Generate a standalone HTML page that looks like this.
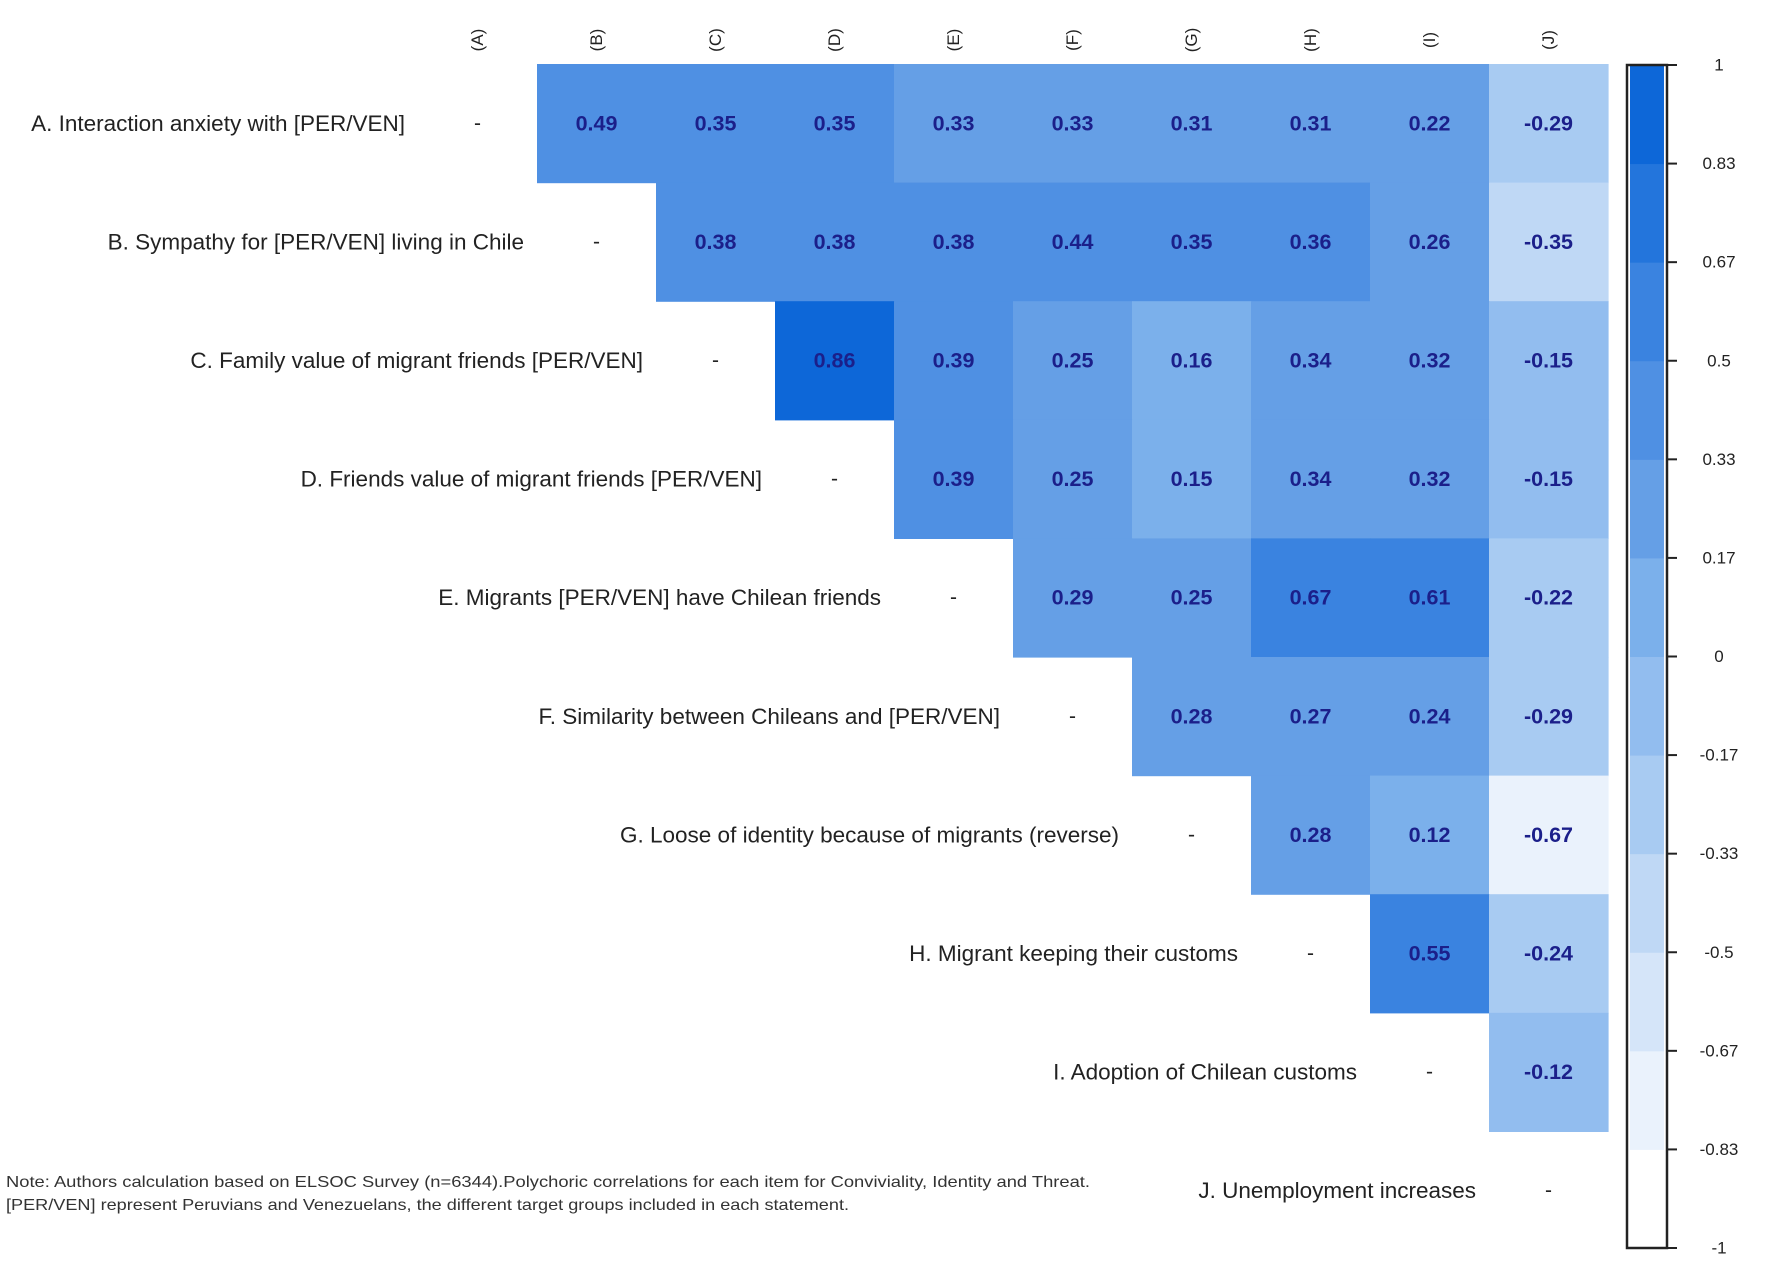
<!DOCTYPE html>
<html><head><meta charset="utf-8"><style>
html,body{margin:0;padding:0;background:#fff;}
svg{display:block;font-family:"Liberation Sans",Arial,sans-serif;}
</style></head><body>
<svg id="chart" width="1772" height="1284" viewBox="0 0 1772 1284"></svg>
<script>
const rowLabels = ["A. Interaction anxiety with [PER/VEN]","B. Sympathy for [PER/VEN] living in Chile","C. Family value of migrant friends [PER/VEN]","D. Friends value of migrant friends [PER/VEN]","E. Migrants [PER/VEN] have Chilean friends","F. Similarity between Chileans and [PER/VEN]","G. Loose of identity because of migrants (reverse)","H. Migrant keeping their customs","I. Adoption of Chilean customs","J. Unemployment increases"];
const colLabels = ["(A)","(B)","(C)","(D)","(E)","(F)","(G)","(H)","(I)","(J)"];
const rowA = [0.49,0.35,0.35,0.33,0.33,0.31,0.31,0.22,-0.29];
const rowB = [0.38,0.38,0.38,0.44,0.35,0.36,0.26,-0.35];
const rowC = [0.86,0.39,0.25,0.16,0.34,0.32,-0.15];
const rowD = [0.39,0.25,0.15,0.34,0.32,-0.15];
const rowE = [0.29,0.25,0.67,0.61,-0.22];
const rowF = [0.28,0.27,0.24,-0.29];
const rowG = [0.28,0.12,-0.67];
const rowH = [0.55,-0.24];
const rowI = [-0.12];
const legendTicks = ["1","0.83","0.67","0.5","0.33","0.17","0","-0.17","-0.33","-0.5","-0.67","-0.83","-1"];

const rows=[rowA,rowB,rowC,rowD,rowE,rowF,rowG,rowH,rowI,[]];
const palette=["#FFFFFF","#EAF2FC","#D5E5F9","#BFD8F5","#A8CBF2","#92BDEF","#7BB0EB","#659FE6","#4F90E3","#3A83E0","#2375DC","#0D67D8"];
const X0=418, CW=119, Y0=64, RH=118.6;
const xPos=c=>X0+c*CW, yPos=r=>Y0+r*RH;
function color(v){let i=Math.floor((v+1)/2*12-0.06);i=Math.max(0,Math.min(11,i));return palette[i];}
const svg=document.getElementById('chart');const NS="http://www.w3.org/2000/svg";
function mk(t,a,txt){const e=document.createElementNS(NS,t);for(const k in a)e.setAttribute(k,a[k]);if(txt!==undefined)e.textContent=txt;svg.appendChild(e);return e;}

colLabels.forEach((l,c)=>{const cx=xPos(c)+CW/2;
 const t=mk('text',{x:cx,y:40,transform:`rotate(-90 ${cx} 40)`,'text-anchor':'middle','dominant-baseline':'central','font-size':17,fill:'#222'},l);
 
 });

rows.forEach((vals,r)=>{
 const cy=yPos(r)+RH/2;
 const lab=mk('text',{x:xPos(r)-13,y:cy,'text-anchor':'end','dominant-baseline':'central','font-size':22.5,fill:'#222'},rowLabels[r]);
 
 
 const d=mk('text',{x:xPos(r)+CW/2,y:cy,'text-anchor':'middle','dominant-baseline':'central','font-size':21,fill:'#222'},'-');
 
 
 vals.forEach((v,k)=>{const c=r+1+k;
  const rc=mk('rect',{x:xPos(c),y:yPos(r),width:CW+0.6,height:RH+0.6,fill:color(v)});
  
  
 });
});
rows.forEach((vals,r)=>{vals.forEach((v,k)=>{const c=r+1+k;
  const t=mk('text',{x:xPos(c)+CW/2,y:yPos(r)+RH/2,'text-anchor':'middle','dominant-baseline':'central','font-size':21.5,'font-weight':'bold',fill:'#1B1F8A'},v.toFixed(2));
  
  
});});

// colorbar
const LX=1627,LW=40,LY0=65,LY1=1248,bh=(LY1-LY0)/12;
palette.forEach((p,i)=>{const r=mk('rect',{x:LX+3,y:LY1-(i+1)*bh,width:LW-6,height:bh+0.5,fill:p});
 
 });
const fr=mk('rect',{x:LX,y:LY0,width:LW,height:LY1-LY0,fill:'none',stroke:'#222','stroke-width':2.5});


legendTicks.forEach((t,i)=>{const y=LY0+i*(LY1-LY0)/12;
 mk('line',{x1:LX+LW,x2:LX+LW+10,y1:y,y2:y,stroke:'#222','stroke-width':2});
 const tx=mk('text',{x:1719,y:y,'text-anchor':'middle','dominant-baseline':'central','font-size':17,fill:'#222'},t);
 
 });

const n1=mk('text',{x:6,y:1187,'font-size':16,fill:'#333',textLength:1084,lengthAdjust:'spacingAndGlyphs'},'Note: Authors calculation based on ELSOC Survey (n=6344).Polychoric correlations for each item for Conviviality, Identity and Threat.');


const n2=mk('text',{x:6,y:1210,'font-size':16,fill:'#333',textLength:843,lengthAdjust:'spacingAndGlyphs'},'[PER/VEN] represent Peruvians and Venezuelans, the different target groups included in each statement.');


</script>
</body></html>
